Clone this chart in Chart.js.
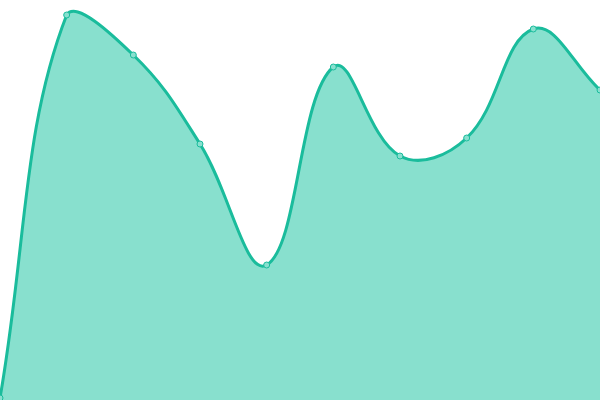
<!DOCTYPE html>
<html>
<head>
<meta charset="utf-8">
<script src="https://cdn.jsdelivr.net/npm/chart.js@4"></script>
<style>
  html, body { margin: 0; padding: 0; background: #fff; }
  #wrap { width: 600px; height: 400px; }
</style>
</head>
<body>
<div id="wrap"><canvas id="myChart"></canvas></div>
<script>
var labels = ['1', '2', '3', '4', '5', '6', '7', '8', '9', '10'];
var values = [2, 385, 345, 256, 135, 333, 244, 262, 371, 310];
var yMin = 0;
var yMax = 400;

var ctx = document.getElementById('myChart');
var chart = new Chart(ctx, {
  type: 'line',
  data: {
    labels: labels,
    datasets: [{
      data: values,
      fill: 'origin',
      tension: 0.4,
      borderColor: '#1abc9c',
      backgroundColor: 'rgba(18,194,158,0.5)',
      borderWidth: 3,
      pointRadius: 3,
      pointBorderWidth: 1,
      pointBackgroundColor: '#88e0cf',
      pointBorderColor: '#1abc9c'
    }]
  },
  options: {
    responsive: true,
    maintainAspectRatio: false,
    animation: false,
    layout: { padding: 0, autoPadding: false },
    plugins: { legend: { display: false }, tooltip: { enabled: false } },
    scales: {
      x: { display: false },
      y: { display: false, min: yMin, max: yMax }
    }
  }
});
</script>
</body>
</html>
